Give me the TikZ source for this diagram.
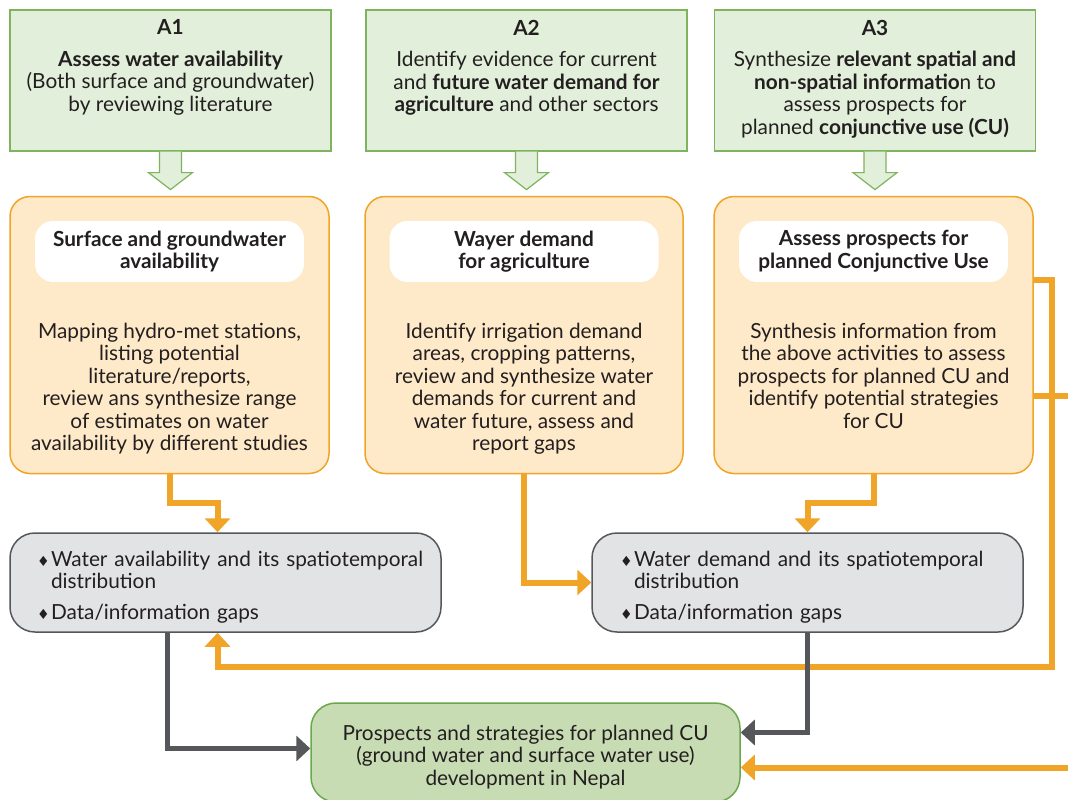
\documentclass[tikz,border=0pt]{standalone}
\usepackage{fontspec}
\setmainfont{Lato}
\newfontfamily\symfont{DejaVu Sans}
\usepackage{tikz}
\usetikzlibrary{positioning, arrows.meta, calc}

\definecolor{topgreen}{HTML}{E2EFDA}
\definecolor{topgreenline}{HTML}{7FB35E}
\definecolor{peach}{HTML}{FEE9C8}
\definecolor{amber}{HTML}{F0A428}
\definecolor{boxgray}{HTML}{E2E3E5}
\definecolor{darkgray}{HTML}{56575B}
\definecolor{resultgreen}{HTML}{C8DCB4}
\definecolor{resultline}{HTML}{6AA84F}
\definecolor{ink}{HTML}{231F20}

\newcommand{\dia}{\makebox[14pt][l]{\symfont\fontsize{14}{14}\selectfont ♦}}

\tikzset{
  activity/.style={draw=topgreenline, fill=topgreen, line width=1.2pt, minimum width=321pt, minimum height=141pt},
  hollowarrow/.style={draw=topgreenline, fill=topgreen, line width=1.2pt},
  task/.style={draw=amber, fill=peach, line width=1.5pt, rounded corners=20pt, minimum width=319pt, minimum height=277pt},
  tasktitle/.style={fill=white, rounded corners=18pt, minimum width=269pt, minimum height=61pt, align=center, font=\fontsize{20.8}{22.5}\selectfont\bfseries},
  outcome/.style={draw=darkgray, fill=boxgray, line width=1.5pt, rounded corners=25pt, minimum height=99pt, align=left},
  result/.style={draw=resultline, fill=resultgreen, line width=1.5pt, rounded corners=25pt, minimum width=429pt, minimum height=99pt, align=center},
  oline/.style={draw=amber, line width=6pt, -{Triangle[width=25pt,length=14pt]}},
  gline/.style={draw=darkgray, line width=5pt, -{Triangle[width=25pt,length=14pt]}}
}

\begin{document}
\begin{tikzpicture}[x=1pt, y=-1pt, every node/.style={text=ink, font=\fontsize{20.8}{22.5}\selectfont}]

\useasboundingbox (0,0) rectangle (1068,800);

% activities
\node[activity] (a1) at (170.5,80.5) {};
\node[activity] (a2) at (526.5,80.5) {};
\node[activity] (a3) at (875,80.5) {};

\node[below=7pt of a1.north, align=center] (t1) {\textbf{A1}\\[9pt]\textbf{Assess water availability}\\(Both surface and groundwater)\\by reviewing literature};
\node[below=7pt of a2.north, align=center] (t2) {\textbf{A2}\\[9pt]Identify evidence for current\\and \textbf{future water demand for}\\\textbf{agriculture} and other sectors};
\node[below=7pt of a3.north, align=center] (t3) {\textbf{A3}\\[9pt]Synthesize \textbf{relevant spatial and}\\\textbf{non-spatial informatio}n to\\assess prospects for\\planned \textbf{conjunctive use (CU)}};

\foreach \b in {a1,a2,a3}
  \filldraw[hollowarrow] ($(\b.south)+(-11,0)$) -- ++(0,21) -- ++(-11,0) -- ++(22,17) -- ++(22,-17) -- ++(-11,0) -- ++(0,-21);

% tasks
\node[task] (o1) at (169.5,335) {};
\node[task, minimum width=318pt] (o2) at (524,335) {};
\node[task] (o3) at (873.5,335) {};

\node[tasktitle, below=25pt of o1.north] (h1) {Surface and groundwater\\availability};
\node[tasktitle, below=25pt of o2.north] (h2) {Wayer demand\\for agriculture};
\node[tasktitle, below=25pt of o3.north] (h3) {Assess prospects for\\planned Conjunctive Use};

\node[below=37pt of h1, align=center] (b1) {Mapping hydro-met stations,\\listing potential\\literature/reports,\\review ans synthesize range\\of estimates on water\\availability by different studies};
\node[below=37pt of h2, align=center] (b2) {Identify irrigation demand\\areas, cropping patterns,\\review and synthesize water\\demands for current and\\water future, assess and\\report gaps};
\node[below=37pt of h3, align=center] (b3) {Synthesis information from\\the above activities to assess\\prospects for planned CU and\\identify potential strategies\\for CU};

% outcomes
\node[outcome, text width=377pt, inner xsep=27pt] (g1) at (225.5,582.5) {\rule{0pt}{24pt}\dia\mbox{Water availability and its spatiotemporal}\\\hspace*{14pt}distribution\\[8pt]\dia Data/information gaps};
\node[outcome, text width=375pt, inner xsep=28pt] (g2) at (807.5,582.5) {\rule{0pt}{24pt}\dia\mbox{Water demand and its spatiotemporal}\\\hspace*{14pt}distribution\\[8pt]\dia Data/information gaps};

\node[result] (pb) at (525.5,752.5) {\rule{0pt}{24pt}Prospects and strategies for planned CU\\(ground water and surface water use)\\development in Nepal};

\coordinate (offr) at (1080,396);

% connectors
\draw[oline] (o1.south) -- ++(0,29) -| ([xshift=-8pt]g1.north);

\draw[oline] (o2.south) |- (g2.west);

\draw[oline] (o3.south) -- ++(0,29) -| (g2.north);

\draw[oline] ([yshift=55pt]o3.east) -- ++(18,0) -- ++(0,387) -| ([xshift=-8pt]g1.south);

\draw[oline] ([yshift=-61pt]o3.east) -- (offr) |- ([yshift=-15pt]pb.east);

\draw[gline] ([xshift=-58pt]g1.south) |- ([yshift=4pt]pb.west);

\draw[gline] (g2.south) |- ([yshift=20pt]pb.east);

\end{tikzpicture}
\end{document}
